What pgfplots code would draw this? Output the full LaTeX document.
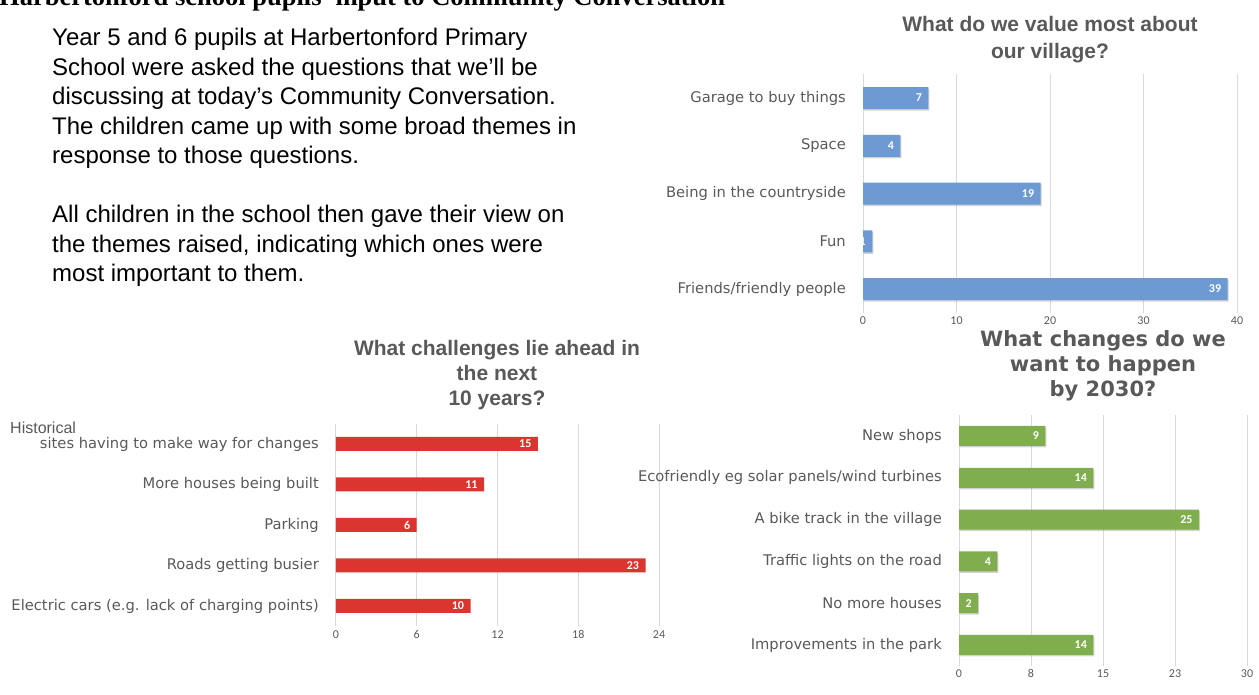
\documentclass[border=0pt]{standalone}
\usepackage{fontspec}
\setmainfont{Liberation Sans}
\newfontfamily\dejavu{DejaVu Sans}
\newfontfamily\carlito{Carlito}
\newfontfamily\serifbold{Liberation Serif}
\usepackage{pgfplots}
\pgfplotsset{compat=1.18}
\usetikzlibrary{shadows}

\definecolor{barblue}{HTML}{6D9AD3}
\definecolor{barred}{HTML}{DB3530}
\definecolor{bargreen}{HTML}{80AE4F}
\definecolor{labgrey}{HTML}{595959}
\definecolor{gridgrey}{HTML}{D9D9D9}

\newcommand{\fs}[2]{\fontsize{#1}{#2}\selectfont}

\pgfplotsset{
  hbar/.style={
    xbar, scale only axis, y dir=reverse, enlargelimits=false,
    /pgf/number format/assume math mode=true,
    axis line style={draw=none}, major tick length=0pt,
    xmajorgrids, major grid style={gridgrey, line width=1pt},
    xticklabel style={font=\carlito\fs{12}{13}, text=labgrey, inner sep=0pt, anchor=base, yshift=-12pt},
    yticklabel style={font=\dejavu\fs{14.7}{16}, text=labgrey, inner sep=0pt, xshift=-17pt, anchor=east},
    nodes near coords,
    every node near coord/.append style={anchor=east, text=white,
      font=\carlito\bfseries\fs{12}{13}, xshift=-3pt},
    anchor=south west,
  },
  shade/.style={drop shadow={shadow xshift=1pt, shadow yshift=-1.5pt, opacity=0.35}},
}

\begin{document}
\begin{tikzpicture}[x=1pt, y=1pt]
\useasboundingbox (0,0) rectangle (1259,695);

% page heading, cut off at the top
\node[anchor=base west, inner sep=0pt, font=\serifbold\bfseries\fs{26.5}{30}] at (-1,689.5)
  {Harbertonford school pupils' input to Community Conversation};

% intro text
\begin{scope}[every node/.style={anchor=base west, inner sep=0pt, font=\fs{24}{29}}]
\node at (52,649)   {Year 5 and 6 pupils at Harbertonford Primary};
\node at (52,619.5) {School were asked the questions that we’ll be};
\node at (52,590)   {discussing at today’s Community Conversation.};
\node at (52,560.5) {The children came up with some broad themes in};
\node at (52,531)   {response to those questions.};
\node at (52,472)   {All children in the school then gave their view on};
\node at (52,442.5) {the themes raised, indicating which ones were};
\node at (52,413)   {most important to them.};
\end{scope}

% chart 1
\begin{axis}[hbar, at={(863pt,382.1pt)}, width=374pt, height=238.75pt,
  xmin=0, xmax=40, xtick={0,10,...,40}, ymin=-0.5, ymax=4.5,
  ytick={0,...,4}, bar width=22pt,
  yticklabels={Garage to buy things, Space, Being in the countryside, Fun, Friends/friendly people}]
\addplot[fill=barblue, draw=none, shade] coordinates {(7,0) (4,1) (19,2) (1,3) (39,4)};
\end{axis}
\node[align=center, text=labgrey, font=\bfseries\fs{21}{27}] at (1050,655)
  {What do we value most about\\our village?};

% chart 2
\begin{axis}[hbar, at={(336pt,68.75pt)}, width=323pt, height=202.5pt,
  xmin=0, xmax=24, xtick={0,6,...,24}, ymin=-0.5, ymax=4.5,
  ytick={0,...,4}, bar width=14pt,
  yticklabels={sites having to make way for changes, More houses being built, Parking, Roads getting busier, Electric cars (e.g. lack of charging points)}]
\addplot[fill=barred, draw=none] coordinates {(15,0) (11,1) (6,2) (23,3) (10,4)};
\end{axis}
\node[anchor=base west, inner sep=0pt, text=labgrey, font=\fs{16}{18}] at (10,261) {Historical};
\node[align=center, text=labgrey, font=\bfseries\fs{21}{25}] at (497,320)
  {What challenges lie ahead in\\the next\\10 years?};

% chart 3
\begin{axis}[hbar, at={(959pt,29.1pt)}, width=288pt, height=250.8pt,
  xmin=0, xmax=30, xtick={0,7.5,15,22.5,30}, xticklabels={0,8,15,23,30},
  ymin=-0.5, ymax=5.5, ytick={0,...,5}, bar width=20pt,
  yticklabels={New shops, Ecofriendly eg solar panels/wind turbines, A bike track in the village, Traffic lights on the road, No more houses, Improvements in the park}]
\addplot[fill=bargreen, draw=none, shade] coordinates {(9,0) (14,1) (25,2) (4,3) (2,4) (14,5)};
\end{axis}
\node[align=center, text=labgrey, font=\dejavu\bfseries\fs{21}{25}] at (1103,329)
  {What changes do we\\want to happen\\by 2030?};
\end{tikzpicture}
\end{document}
